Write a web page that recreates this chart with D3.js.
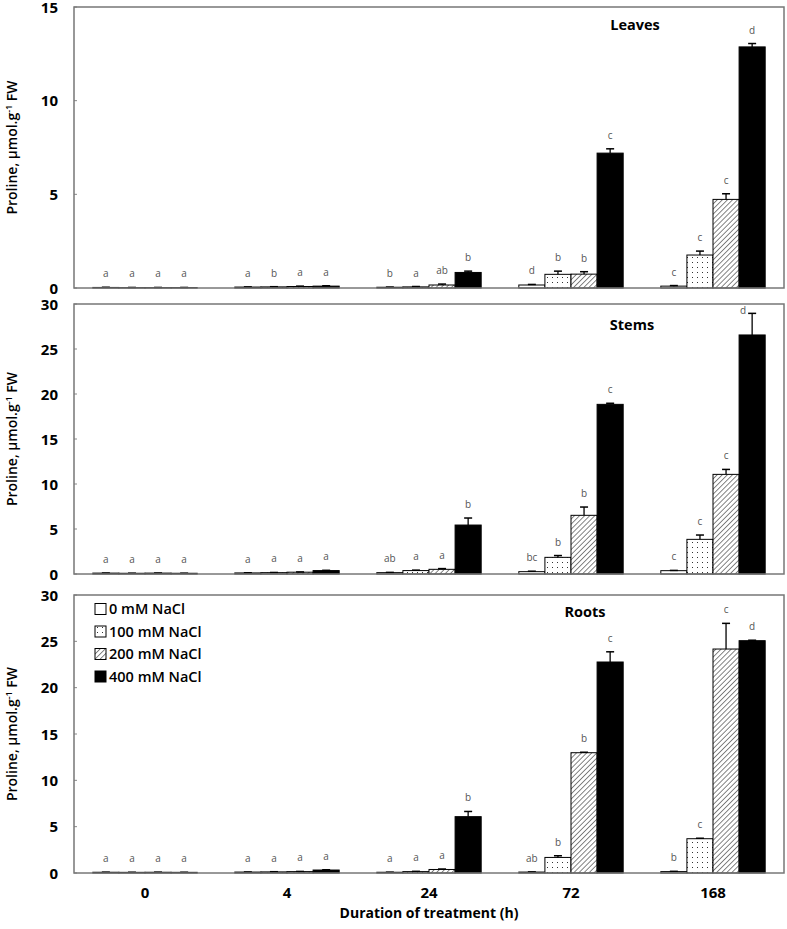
<!DOCTYPE html>
<html><head><meta charset="utf-8">
<script src="https://cdn.jsdelivr.net/npm/d3@7"></script>
<style>body{margin:0;background:#fff}svg{display:block}</style>
</head><body><svg id="c" width="787" height="929"></svg>
<script>
const times = ["0","4","24","72","168"];
const series = ["0 mM NaCl","100 mM NaCl","200 mM NaCl","400 mM NaCl"];
const xTitle = "Duration of treatment (h)";

// Leaves
const leaves0   = [0.03, 0.05, 0.04, 0.16, 0.10];
const leaves100 = [0.02, 0.06, 0.06, 0.73, 1.76];
const leaves200 = [0.02, 0.08, 0.16, 0.74, 4.73];
const leaves400 = [0.02, 0.10, 0.83, 7.20, 12.87];
const leavesErr0   = [0.01, 0.01, 0.01, 0.03, 0.03];
const leavesErr100 = [0.01, 0.01, 0.02, 0.17, 0.21];
const leavesErr200 = [0.01, 0.02, 0.05, 0.13, 0.30];
const leavesErr400 = [0.01, 0.02, 0.07, 0.23, 0.18];
const leavesLet0   = ["a","a","b","d","c"];
const leavesLet100 = ["a","b","a","b","c"];
const leavesLet200 = ["a","a","ab","b","c"];
const leavesLet400 = ["a","a","b","c","d"];
const leavesTicks = [0,5,10,15];

// Stems
const stems0   = [0.10, 0.12, 0.15, 0.26, 0.37];
const stems100 = [0.08, 0.15, 0.38, 1.85, 3.85];
const stems200 = [0.10, 0.20, 0.52, 6.52, 11.07];
const stems400 = [0.08, 0.38, 5.44, 18.85, 26.56];
const stemsErr0   = [0.01, 0.02, 0.03, 0.05, 0.03];
const stemsErr100 = [0.01, 0.02, 0.05, 0.20, 0.48];
const stemsErr200 = [0.01, 0.03, 0.08, 0.92, 0.55];
const stemsErr400 = [0.01, 0.03, 0.78, 0.12, 2.40];
const stemsLet0   = ["a","a","ab","bc","c"];
const stemsLet100 = ["a","a","a","b","c"];
const stemsLet200 = ["a","a","a","b","c"];
const stemsLet400 = ["a","a","b","c","d"];
const stemsTicks = [0,5,10,15,20,25,30];

// Roots
const roots0   = [0.08, 0.10, 0.08, 0.10, 0.15];
const roots100 = [0.07, 0.12, 0.15, 1.68, 3.70];
const roots200 = [0.08, 0.15, 0.38, 12.98, 24.17];
const roots400 = [0.07, 0.32, 6.08, 22.77, 25.07];
const rootsErr0   = [0.01, 0.01, 0.01, 0.02, 0.03];
const rootsErr100 = [0.01, 0.02, 0.03, 0.18, 0.05];
const rootsErr200 = [0.01, 0.02, 0.05, 0.05, 2.77];
const rootsErr400 = [0.01, 0.03, 0.56, 1.10, 0.05];
const rootsLet0   = ["a","a","a","ab","b"];
const rootsLet100 = ["a","a","a","b","c"];
const rootsLet200 = ["a","a","a","b","c"];
const rootsLet400 = ["a","a","b","c","d"];
const rootsTicks = [0,5,10,15,20,25,30];

const panels = [
  {name:"Leaves", vals:[leaves0,leaves100,leaves200,leaves400], errs:[leavesErr0,leavesErr100,leavesErr200,leavesErr400], lets:[leavesLet0,leavesLet100,leavesLet200,leavesLet400], ticks:leavesTicks, top:7, bottom:288, titleX:635, titleY:30, legend:false},
  {name:"Stems", vals:[stems0,stems100,stems200,stems400], errs:[stemsErr0,stemsErr100,stemsErr200,stemsErr400], lets:[stemsLet0,stemsLet100,stemsLet200,stemsLet400], ticks:stemsTicks, top:304, bottom:574, titleX:632, titleY:330, legend:false},
  {name:"Roots", vals:[roots0,roots100,roots200,roots400], errs:[rootsErr0,rootsErr100,rootsErr200,rootsErr400], lets:[rootsLet0,rootsLet100,rootsLet200,rootsLet400], ticks:rootsTicks, top:595, bottom:873, titleX:585, titleY:617, legend:true}
];

const FONT = "'Open Sans', sans-serif";
const svg = d3.select("#c");
const left = 74, right = 784;

const defs = svg.append("defs");
const pd = defs.append("pattern").attr("id","dots").attr("patternUnits","userSpaceOnUse").attr("width",5).attr("height",5);
pd.append("rect").attr("width",5).attr("height",5).attr("fill","#fff");
pd.append("rect").attr("x",2).attr("y",2).attr("width",1).attr("height",1).attr("fill","#333");
const ph = defs.append("pattern").attr("id","hatch").attr("patternUnits","userSpaceOnUse").attr("width",3.6).attr("height",3.6).attr("patternTransform","rotate(45)");
ph.append("rect").attr("width",3.6).attr("height",3.6).attr("fill","#fff");
ph.append("line").attr("x1",0).attr("y1",0).attr("x2",0).attr("y2",3.6).attr("stroke","#333").attr("stroke-width",1.2);
const fills = ["#fff","url(#dots)","url(#hatch)","#000"];

const x0 = d3.scaleBand().domain(times).range([left,right]).padding(0);
const x1 = d3.scaleBand().domain(series).range([0, x0.bandwidth()*0.735]).padding(0);
const groupOff = (x0.bandwidth() - x0.bandwidth()*0.735)/2;

panels.forEach(p => {
  const y = d3.scaleLinear().domain([0, d3.max(p.ticks)]).range([p.bottom, p.top]);
  const g = svg.append("g");
  const yAxis = d3.axisLeft(y).tickValues(p.ticks).tickSize(0).tickPadding(0);
  const ag = g.append("g").attr("transform",`translate(${left},0)`).call(yAxis);
  ag.select(".domain").remove();
  ag.selectAll("text").attr("x",-16).attr("font-family",FONT).attr("font-weight",700).attr("font-size",15).attr("fill","#000").attr("dy","0.35em");
  ag.selectAll("line").remove();
  g.selectAll(".tk").data(p.ticks).join("line").attr("x1",left).attr("x2",left+3).attr("y1",d=>y(d)).attr("y2",d=>y(d)).attr("stroke","#888").attr("stroke-width",1);

  series.forEach((s,si) => {
    const vals = p.vals[si], errs = p.errs[si], lets = p.lets[si];
    times.forEach((t,ti) => {
      const bx = x0(t) + groupOff + x1(s);
      const bw = x1.bandwidth();
      const v = vals[ti], e = errs[ti];
      g.append("rect").attr("x",bx).attr("y",y(v)).attr("width",bw).attr("height",p.bottom - y(v))
        .attr("fill",fills[si]).attr("stroke","#000").attr("stroke-width",1);
      const cx = bx + bw/2;
      const et = y(v+e);
      if (e > 0.02 * d3.max(p.ticks)/15) {
        g.append("line").attr("x1",cx).attr("x2",cx).attr("y1",y(v)).attr("y2",et).attr("stroke","#000").attr("stroke-width",1.3);
      }
      g.append("line").attr("x1",cx-4).attr("x2",cx+4).attr("y1",et).attr("y2",et).attr("stroke","#000").attr("stroke-width",1.5);
      let ly = et - 10, lx = cx;
      if (ly < p.top + 10) { ly = p.top + 10; lx = cx - 9; }
      g.append("text").attr("x",lx).attr("y",ly).attr("text-anchor","middle").attr("font-family",FONT).attr("font-size",10).attr("fill","#555").text(lets[ti]);
    });
  });

  g.append("rect").attr("x",left).attr("y",p.top).attr("width",right-left).attr("height",p.bottom-p.top)
    .attr("fill","none").attr("stroke","#777").attr("stroke-width",1.5);

  g.append("text").attr("x",p.titleX).attr("y",p.titleY).attr("text-anchor","middle").attr("font-family",FONT).attr("font-weight",700).attr("font-size",14.5).attr("fill","#000").text(p.name);

  const cy = (p.top + p.bottom)/2;
  const yl = g.append("text").attr("transform",`translate(17,${cy}) rotate(-90)`).attr("text-anchor","middle").attr("font-family",FONT).attr("font-weight",600).attr("font-size",14).attr("fill","#000");
  yl.append("tspan").text("Proline, µmol.g");
  yl.append("tspan").attr("font-size",9).attr("dy",-5).text("-1");
  yl.append("tspan").attr("dy",5).text(" FW");

  if (p.legend) {
    const lg = g.append("g");
    series.forEach((s,si) => {
      const ry = p.top + 14 + si*22.5;
      lg.append("rect").attr("x",95).attr("y",ry-5.5).attr("width",11).attr("height",11).attr("fill",fills[si]).attr("stroke","#000").attr("stroke-width",1);
      lg.append("text").attr("x",109).attr("y",ry).attr("dy","0.36em").attr("font-family",FONT).attr("font-weight",600).attr("font-size",14.5).attr("fill","#000").text(s);
    });
  }
});

const xa = svg.append("g").attr("transform","translate(0,873)").call(d3.axisBottom(x0).tickSize(0).tickPadding(0));
xa.select(".domain").remove();
xa.selectAll("text").attr("y",25).attr("dy","0").attr("font-family",FONT).attr("font-weight",700).attr("font-size",15).attr("fill","#000");
svg.append("text").attr("x",429).attr("y",918).attr("text-anchor","middle").attr("font-family",FONT).attr("font-weight",700).attr("font-size",14).attr("fill","#000").text(xTitle);
</script></body></html>
